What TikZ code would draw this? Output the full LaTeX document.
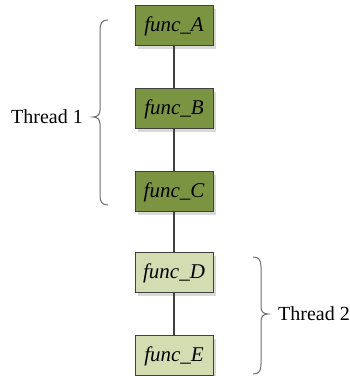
\documentclass[tikz,border=0pt]{standalone}
\usepackage{fontspec}
\setmainfont{Liberation Serif}
\usetikzlibrary{shadows}
\definecolor{olivedark}{HTML}{7A9442}
\definecolor{olivelight}{HTML}{D3DDB1}
\definecolor{edgegray}{HTML}{404040}
\definecolor{bracegray}{HTML}{6E6E6E}
\tikzset{
  funcbox/.style={draw=edgegray, line width=1pt, minimum width=78pt, minimum height=40pt,
    inner sep=0pt, font=\fontsize{21}{23}\selectfont\itshape,
    drop shadow={shadow xshift=3pt, shadow yshift=-3pt, fill=black!15, opacity=1}},
  funcdark/.style={funcbox, fill=olivedark},
  funclight/.style={funcbox, fill=olivelight},
  link/.style={draw=edgegray, line width=1.5pt},
  bracepath/.style={draw=bracegray, line width=1pt},
  lbl/.style={font=\fontsize{20}{22}\selectfont, inner sep=0pt}
}
\begin{document}
\begin{tikzpicture}[x=1pt,y=1pt]
\useasboundingbox (0,0) rectangle (350,376);
\node[funcdark] (A) at (174,350) {func\_A};
\node[funcdark] (B) at (174,267) {func\_B};
\node[funcdark] (C) at (174,184) {func\_C};
\node[funclight] (D) at (174,103) {func\_D};
\node[funclight] (E) at (174,20) {func\_E};
\draw[link] (A) -- (B);
\draw[link] (B) -- (C);
\draw[link] (C) -- (D);
\draw[link] (D) -- (E);
% brace 1
\draw[bracepath] (108,356) .. controls (102,356) and (100,353) .. (100,346)
  -- (100,266) .. controls (100,261) and (97,259) .. (93,259)
  .. controls (97,259) and (100,257) .. (100,252)
  -- (100,181) .. controls (100,174) and (102,171) .. (108,171);
% brace 2
\draw[bracepath] (253,119) .. controls (259,119) and (261,116) .. (261,109)
  -- (261,69) .. controls (261,64) and (264,62) .. (268,62)
  .. controls (264,62) and (261,60) .. (261,55)
  -- (261,12) .. controls (261,5) and (259,2) .. (253,2);
\node[lbl, anchor=east] (t1) at (83,259) {Thread 1};
\node[lbl, anchor=west] (t2) at (278,62) {Thread 2};
\end{tikzpicture}
\end{document}
